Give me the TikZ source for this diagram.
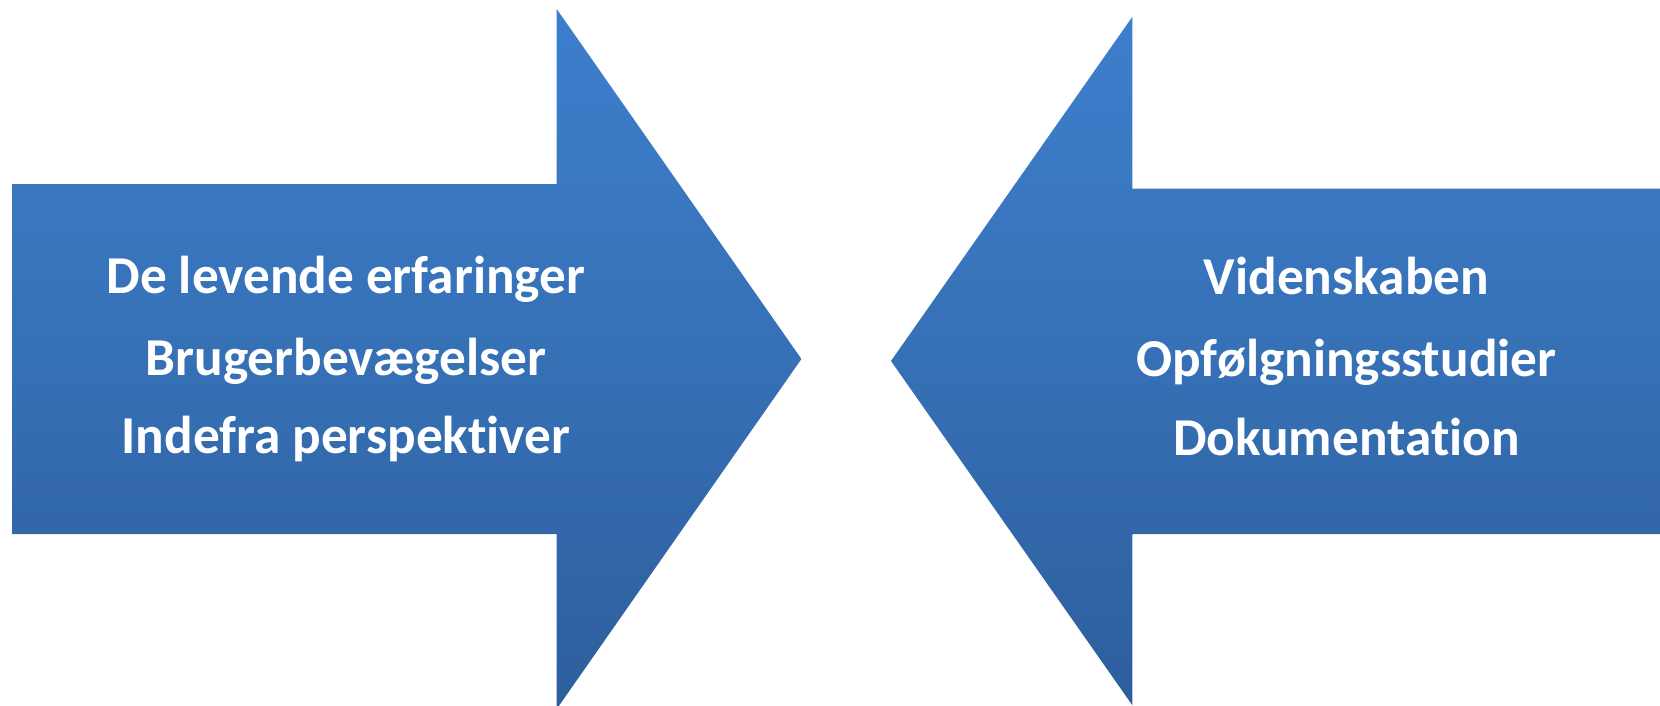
\documentclass[tikz,border=0pt]{standalone}
\usepackage{fontspec}
\setmainfont{Carlito}[Ligatures=NoCommon]
\begin{document}
\begin{tikzpicture}[x=1pt,y=-1pt,
  arrowfill/.style={draw=none, top color=arrowtop, bottom color=arrowbottom, middle color=arrowmid},
  label/.style={text=white, font=\fontsize{53.3}{60}\selectfont\bfseries, anchor=base, inner sep=0pt}]
  \definecolor{arrowtop}{RGB}{61,127,205}
  \definecolor{arrowmid}{RGB}{54,112,181}
  \definecolor{arrowbottom}{RGB}{45,94,156}
  \path[use as bounding box] (0,0) rectangle (1660,706);
  \clip (0,0) rectangle (1660,706);
  % right-pointing block arrow
  \path[arrowfill] (12,184) -- (556.7,184) -- (556.7,9) -- (801.4,359)
    -- (556.7,709) -- (556.7,534) -- (12,534) -- cycle;
  % left-pointing block arrow
  \path[arrowfill] (1665,188.7) -- (1132.4,188.7) -- (1132.4,16.7) -- (891,361)
    -- (1132.4,705.3) -- (1132.4,534) -- (1665,534) -- cycle;
  % labels of the right-pointing arrow
  \node[label] (l1) at (346,293.3) {De levende erfaringer};
  \node[label] (l2) at (346,375) {Brugerbevægelser};
  \node[label] (l3) at (346,453.3) {Indefra perspektiver};
  % labels of the left-pointing arrow
  \node[label] (r1) at (1346.5,294.3) {Videnskaben};
  \node[label] (r2) at (1346.5,376.7) {Opfølgningsstudier};
  \node[label] (r3) at (1346.5,455) {Dokumentation};
\end{tikzpicture}
\end{document}
